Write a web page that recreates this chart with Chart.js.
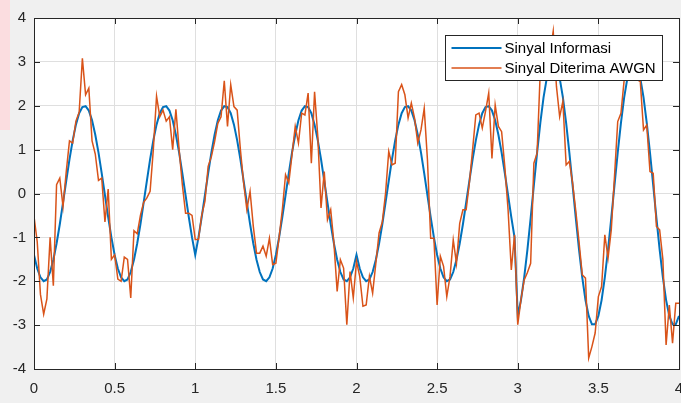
<!DOCTYPE html>
<html>
<head>
<meta charset="utf-8">
<script src="https://cdn.jsdelivr.net/npm/chart.js@4.4.1/dist/chart.umd.min.js"></script>
<style>
  html, body { margin: 0; padding: 0; background: #f0f0f0; }
  #wrap { position: relative; width: 681px; height: 403px; overflow: hidden; }
  #pink { position: absolute; left: 0; top: 0; width: 10px; height: 130px; background: #fbdde0; }
  canvas { position: absolute; left: 0; top: 0; }
</style>
</head>
<body>
<div id="wrap">
  <div id="pink"></div>
  <canvas id="sinyalChart" width="681" height="403"></canvas>
</div>
<script>
// waktu sampel: 0 .. 4 detik, tiap 0.02 detik (201 sampel)
const langkahWaktu = 0.02;

// Sinyal Informasi (biru)
const sinyalInformasi = [
  -1.40,-1.71,-1.91,-2.00,-1.96,-1.79,-1.51,-1.14,-0.70,-0.21,0.29,0.78,1.21,1.57,1.83,1.97,1.99,1.89,1.67,1.34,0.93,0.46,-0.04,-0.54,-1.00,
  -1.40,-1.71,-1.91,-2.00,-1.96,-1.79,-1.51,-1.14,-0.70,-0.21,0.29,0.78,1.21,1.57,1.83,1.97,1.99,1.89,1.67,1.34,0.93,0.46,-0.04,-0.54,-1.00,
  -1.40,-1.00,-0.54,-0.04,0.46,0.93,1.34,1.67,1.89,1.99,1.97,1.83,1.57,1.21,0.78,0.29,-0.21,-0.70,-1.14,-1.51,-1.79,-1.96,-2.00,-1.91,-1.71,
  -1.40,-1.00,-0.54,-0.04,0.46,0.93,1.34,1.67,1.89,1.99,1.97,1.83,1.57,1.21,0.78,0.29,-0.21,-0.70,-1.14,-1.51,-1.79,-1.96,-2.00,-1.91,-1.71,
  -1.40,-1.71,-1.91,-2.00,-1.96,-1.79,-1.51,-1.14,-0.70,-0.21,0.29,0.78,1.21,1.57,1.83,1.97,1.99,1.89,1.67,1.34,0.93,0.46,-0.04,-0.54,-1.00,
  -1.40,-1.71,-1.91,-2.00,-1.96,-1.79,-1.51,-1.14,-0.70,-0.21,0.29,0.78,1.21,1.57,1.83,1.97,1.99,1.89,1.67,1.34,0.93,0.46,-0.04,-0.54,-1.00,
  -2.79,-2.43,-1.91,-1.28,-0.56,0.19,0.93,1.61,2.19,2.63,2.91,3.00,2.91,2.63,2.19,1.61,0.93,0.19,-0.56,-1.28,-1.91,-2.43,-2.79,-2.98,-2.98,
  -2.79,-2.43,-1.91,-1.28,-0.56,0.19,0.93,1.61,2.19,2.63,2.91,3.00,2.91,2.63,2.19,1.61,0.93,0.19,-0.56,-1.28,-1.91,-2.43,-2.79,-2.98,-2.98,
  -2.79
];

// Sinyal Diterima AWGN (oranye)
const sinyalDiterima = [
  -0.52,-1.1,-2.3,-2.75,-2.4,-1.0,-2.1,0.2,0.35,-0.3,
  0.5,1.2,1.15,1.65,1.85,3.08,2.25,2.4,1.2,0.9,
  0.3,0.35,-0.65,0.1,-1.5,-1.4,-1.95,-2.0,-1.45,-1.5,
  -2.38,-0.85,-0.92,-0.5,-0.2,-0.1,0.05,1.0,2.22,1.75,
  1.9,1.65,1.75,1.0,1.92,1.0,0.2,-0.45,-0.45,-0.5,
  -1.05,-1.05,-0.5,-0.18,0.62,0.84,1.18,1.6,1.75,2.57,
  1.53,2.48,1.98,1.9,1.0,0.24,-0.37,0.05,-0.75,-1.36,
  -1.36,-1.2,-1.43,-1.02,-1.62,-1.59,-1.0,-0.37,0.43,0.24,
  0.88,1.53,1.15,1.83,1.79,2.29,0.69,2.32,1.3,-0.33,
  0.5,-0.6,-0.37,-1.13,-2.23,-1.51,-1.7,-2.99,-1.78,-2.38,
  -1.55,-1.89,-2.57,-2.54,-1.89,-2.27,-1.59,-0.9,-0.65,0.0,
  0.96,0.65,0.69,2.32,2.48,2.25,1.72,2.06,1.72,1.15,
  1.45,1.94,0.77,-1.02,-1.02,-2.54,-1.43,-1.66,-2.35,-1.89,
  -1.06,-1.59,-0.68,-0.37,-0.37,0.24,1.0,1.79,1.83,1.49,
  1.87,2.29,0.8,2.02,1.53,1.41,0.6,-0.37,-1.74,-0.94,
  -2.99,-2.42,-1.97,-1.8,-1.59,0.69,0.92,2.82,3.3,3.0,
  3.2,3.7,2.44,1.75,2.1,0.65,0.73,0.24,-0.4,-1.1,
  -1.85,-1.93,-3.75,-3.49,-3.18,-2.35,-2.12,-0.94,-1.47,-0.83,
  0.39,1.64,1.83,2.59,3.1,3.2,2.9,2.6,2.55,1.45,
  1.56,0.5,0.46,-0.75,-0.83,-1.5,-3.45,-2.54,-3.41,-2.5,
  -2.5
];

const tickX = [0, 0.5, 1, 1.5, 2, 2.5, 3, 3.5, 4];
const tickY = [-4, -3, -2, -1, 0, 1, 2, 3, 4];

const warnaSumbu = '#262626';
const fontSumbu = { family: '"Liberation Sans", Arial, sans-serif', size: 15 };

function keTitik(arr) {
  return arr.map((v, i) => ({ x: i * langkahWaktu, y: v }));
}

// kotak sumbu ala MATLAB: latar putih, tick ke dalam, legenda di dalam plot
const kotakSumbu = {
  id: 'kotakSumbu',
  beforeDraw(chart) {
    const { ctx, chartArea: a } = chart;
    ctx.save();
    ctx.fillStyle = '#ffffff';
    ctx.fillRect(a.left, a.top, a.right - a.left, a.bottom - a.top);
    ctx.restore();
  },
  afterDraw(chart) {
    const { ctx, chartArea: a, scales } = chart;
    ctx.save();
    ctx.strokeStyle = warnaSumbu;
    ctx.lineWidth = 1;
    ctx.beginPath();
    tickX.forEach(v => {
      const px = Math.round(scales.x.getPixelForValue(v)) + 0.5;
      ctx.moveTo(px, a.bottom); ctx.lineTo(px, a.bottom - 6);
      ctx.moveTo(px, a.top); ctx.lineTo(px, a.top + 6);
    });
    tickY.forEach(v => {
      const py = Math.round(scales.y.getPixelForValue(v)) + 0.5;
      ctx.moveTo(a.left, py); ctx.lineTo(a.left + 6, py);
      ctx.moveTo(a.right, py); ctx.lineTo(a.right - 6, py);
    });
    ctx.stroke();
    const l = Math.round(a.left) + 0.5, t = Math.round(a.top) + 0.5;
    ctx.strokeRect(l, t, Math.round(a.right) - Math.round(a.left), Math.round(a.bottom) - Math.round(a.top));

    // legenda
    const bx = Math.round(a.right) - 234 + 0.5, by = t + 17, bw = 217, bh = 45;
    ctx.fillStyle = '#ffffff';
    ctx.fillRect(bx, by, bw, bh);
    ctx.strokeStyle = warnaSumbu;
    ctx.strokeRect(bx, by, bw, bh);
    ctx.font = '15px ' + fontSumbu.family;
    ctx.textBaseline = 'middle';
    ctx.fillStyle = '#000000';
    chart.data.datasets.forEach((ds, i) => {
      const y = by + 12.5 + i * 20;
      ctx.strokeStyle = ds.borderColor;
      ctx.lineWidth = ds.borderWidth;
      ctx.beginPath();
      ctx.moveTo(bx + 6, y); ctx.lineTo(bx + 56, y);
      ctx.stroke();
      ctx.fillText(ds.label, bx + 59, y + 0.5);
    });
    ctx.restore();
  }
};

new Chart(document.getElementById('sinyalChart'), {
  type: 'line',
  data: {
    datasets: [
      {
        label: 'Sinyal Informasi',
        data: keTitik(sinyalInformasi),
        borderColor: '#0072BD',
        borderWidth: 2,
        pointRadius: 0,
        tension: 0,
        order: 2
      },
      {
        label: 'Sinyal Diterima AWGN',
        data: keTitik(sinyalDiterima),
        borderColor: '#D95319',
        borderWidth: 1.5,
        pointRadius: 0,
        tension: 0,
        order: 1
      }
    ]
  },
  options: {
    responsive: false,
    animation: false,
    layout: { padding: { top: 18, right: 2, left: 0, bottom: 0 } },
    plugins: { legend: { display: false }, tooltip: { enabled: false } },
    scales: {
      x: {
        type: 'linear',
        min: 0, max: 4,
        afterBuildTicks: s => { s.ticks = tickX.map(v => ({ value: v })); },
        afterFit: s => { s.height = 34; s.paddingLeft = 0; s.paddingRight = 0; },
        grid: { color: '#dfdfdf', drawTicks: false },
        border: { display: false },
        ticks: { color: warnaSumbu, font: fontSumbu, padding: 11, maxRotation: 0, autoSkip: false,
                 callback: v => String(v) }
      },
      y: {
        min: -4, max: 4,
        afterBuildTicks: s => { s.ticks = tickY.map(v => ({ value: v })); },
        afterFit: s => { s.width = 34; s.paddingTop = 0; s.paddingBottom = 0; },
        grid: { color: '#dfdfdf', drawTicks: false },
        border: { display: false },
        ticks: { color: warnaSumbu, font: fontSumbu, padding: 8, callback: v => String(v) }
      }
    }
  },
  plugins: [kotakSumbu]
});
</script>
</body>
</html>
